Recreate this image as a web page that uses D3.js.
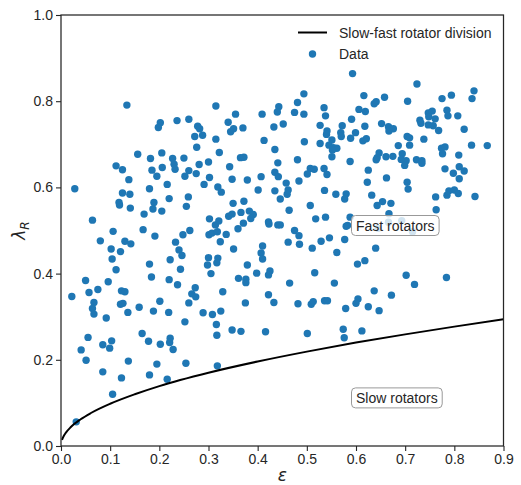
<!DOCTYPE html>
<html>
<head>
<meta charset="utf-8">
<script src="https://cdn.jsdelivr.net/npm/d3@7"></script>
<style>
  html, body { margin: 0; padding: 0; background: #fff; }
  svg { display: block; font-family: "Liberation Sans", Arial, sans-serif; }
</style>
</head>
<body>
<svg id="chart" width="521" height="485"></svg>
<script>
// Ellipticity (epsilon) and lambda_R of each galaxy
const dataEps = [
  0.134,0.202,0.198,0.236,0.260,0.278,0.282,0.272,0.276,0.156,0.182,0.205,0.227,0.250,0.230,0.232,0.112,0.125,0.185,0.206,
  0.195,0.260,0.281,0.275,0.252,0.138,0.216,
  0.494,0.481,0.315,0.443,0.440,0.355,0.409,0.475,0.494,0.535,0.538,0.340,0.351,0.345,0.370,0.452,0.433,0.288,0.527,0.541,
  0.540,0.572,0.569,0.570,0.315,0.413,0.495,0.527,0.551,0.545,0.554,0.561,0.552,0.322,0.435,0.551,0.300,0.365,0.372,0.343,
  0.441,0.481,0.507,0.515,0.435,0.442,0.535,0.541,0.501,0.302,0.348,0.379,0.407,0.458,0.484,0.291,
  0.593,0.724,0.840,0.836,0.616,0.658,0.637,0.641,0.705,0.775,0.794,0.606,0.619,0.591,0.747,0.755,0.748,0.785,0.787,0.807,
  0.730,0.732,0.761,0.652,0.666,0.676,0.667,0.618,0.747,0.757,0.768,0.820,0.599,0.589,0.614,0.621,0.704,0.709,0.738,0.686,
  0.709,0.774,0.781,0.776,0.835,0.867,0.647,0.643,0.641,0.661,0.675,0.694,0.692,0.702,0.699,0.723,0.734,0.734,0.809,0.588,
  0.625,0.781,0.810,0.820,0.798,0.810,0.623,0.662,0.704,
  0.028,0.125,0.140,0.118,0.119,0.141,0.180,0.189,0.187,0.169,0.205,0.220,0.259,0.255,0.064,0.106,0.167,0.191,0.248,0.262,
  0.080,0.130,0.142,0.102,0.121,0.233,0.240,0.246,0.104,0.222,0.180,0.112,0.243,0.184,0.050,0.096,0.220,0.237,0.022,0.057,
  0.075,0.123,0.130,0.067,0.121,0.126,0.201,0.273,0.266,0.274,0.260,0.159,0.064,
  0.319,0.326,0.401,0.435,0.462,0.460,0.536,0.559,0.580,0.577,0.350,0.372,0.446,0.507,0.302,0.314,0.321,0.301,0.307,0.318,
  0.336,0.324,0.341,0.348,0.366,0.383,0.391,0.386,0.371,0.360,0.422,0.423,0.441,0.446,0.464,0.518,0.538,0.580,0.475,0.484,
  0.462,0.485,0.511,0.529,0.546,0.577,0.351,0.410,0.407,0.410,0.300,0.298,0.319,0.317,0.379,0.305,0.398,0.425,0.422,0.361,
  0.376,0.376,0.516,0.561,0.465,0.556,0.329,0.422,0.375,0.433,0.482,0.509,0.513,0.536,0.542,0.579,
  0.706,0.762,0.785,0.789,0.800,0.808,0.842,0.632,0.643,0.654,0.671,0.667,0.763,0.588,0.583,0.645,0.666,0.693,0.715,0.640,
  0.603,0.618,0.702,0.719,0.784,0.637,0.672,0.604,0.600,0.625,0.647,
  0.067,0.092,0.136,0.188,0.219,0.252,0.055,0.041,0.051,0.085,0.103,0.099,0.165,0.178,0.202,0.222,0.221,0.228,0.137,0.195,
  0.254,0.085,0.123,0.180,0.216,0.105,0.031,
  0.289,0.308,0.325,0.316,0.317,0.348,0.366,0.416,0.501,0.574,0.576,0.612,0.318
];
const dataLambda = [
  0.791,0.750,0.739,0.755,0.758,0.742,0.736,0.718,0.693,0.677,0.667,0.680,0.667,0.668,0.654,0.642,0.650,0.641,0.640,0.646,
  0.626,0.639,0.653,0.632,0.626,0.618,0.607,
  0.817,0.797,0.789,0.787,0.775,0.770,0.770,0.774,0.770,0.785,0.766,0.751,0.736,0.729,0.738,0.747,0.740,0.721,0.744,0.731,
  0.723,0.743,0.727,0.718,0.712,0.709,0.706,0.702,0.710,0.698,0.692,0.691,0.687,0.681,0.688,0.671,0.659,0.669,0.670,0.648,
  0.657,0.664,0.644,0.642,0.635,0.625,0.644,0.630,0.631,0.623,0.619,0.617,0.625,0.610,0.615,0.607,
  0.864,0.840,0.824,0.806,0.813,0.809,0.794,0.799,0.800,0.806,0.814,0.781,0.776,0.758,0.773,0.777,0.764,0.779,0.766,0.766,
  0.756,0.749,0.759,0.748,0.741,0.736,0.731,0.742,0.745,0.743,0.732,0.735,0.727,0.714,0.708,0.713,0.718,0.715,0.712,0.697,
  0.698,0.691,0.694,0.678,0.698,0.697,0.680,0.669,0.664,0.671,0.672,0.678,0.665,0.662,0.651,0.664,0.662,0.656,0.675,0.660,
  0.640,0.643,0.648,0.638,0.633,0.620,0.612,0.622,0.612,
  0.597,0.587,0.584,0.565,0.559,0.552,0.597,0.565,0.550,0.538,0.545,0.574,0.578,0.556,0.524,0.498,0.502,0.487,0.490,0.500,
  0.476,0.475,0.469,0.457,0.451,0.473,0.455,0.442,0.434,0.432,0.422,0.409,0.410,0.392,0.384,0.381,0.386,0.374,0.347,0.356,
  0.363,0.360,0.358,0.333,0.329,0.331,0.336,0.367,0.353,0.346,0.332,0.322,0.319,
  0.601,0.589,0.594,0.592,0.594,0.584,0.593,0.584,0.585,0.573,0.563,0.568,0.573,0.558,0.527,0.513,0.522,0.490,0.494,0.497,
  0.491,0.474,0.533,0.538,0.542,0.545,0.537,0.528,0.517,0.504,0.520,0.515,0.513,0.513,0.547,0.527,0.531,0.510,0.500,0.488,
  0.473,0.468,0.459,0.475,0.483,0.479,0.457,0.464,0.448,0.434,0.437,0.420,0.436,0.425,0.420,0.400,0.401,0.406,0.397,0.389,
  0.387,0.379,0.402,0.449,0.378,0.378,0.358,0.351,0.332,0.333,0.330,0.329,0.335,0.337,0.337,0.319,
  0.596,0.578,0.582,0.592,0.594,0.586,0.579,0.582,0.558,0.567,0.563,0.539,0.548,0.531,0.512,0.505,0.519,0.523,0.497,0.459,
  0.422,0.430,0.396,0.375,0.391,0.360,0.350,0.341,0.331,0.323,0.314,
  0.306,0.297,0.310,0.313,0.310,0.288,0.252,0.223,0.199,0.235,0.244,0.227,0.261,0.243,0.236,0.250,0.240,0.224,0.197,0.190,
  0.192,0.172,0.158,0.165,0.155,0.120,0.056,
  0.309,0.305,0.313,0.282,0.257,0.269,0.266,0.265,0.261,0.271,0.251,0.267,0.186
];

// Slow/fast rotator dividing line, sampled along the curve
const divisionEps    = [0.002, 0.005, 0.01, 0.02, 0.04, 0.06, 0.10, 0.15, 0.20, 0.30, 0.40, 0.50, 0.60, 0.70, 0.80, 0.90];
const divisionLambda = [0.014, 0.022, 0.031, 0.044, 0.062, 0.076, 0.098, 0.120, 0.139, 0.170, 0.196, 0.219, 0.240, 0.259, 0.277, 0.294];

const xTicks = [0.0, 0.1, 0.2, 0.3, 0.4, 0.5, 0.6, 0.7, 0.8, 0.9];
const yTicks = [0.0, 0.2, 0.4, 0.6, 0.8, 1.0];

const regionLabels = ["Fast rotators", "Slow rotators"];
const regionLabelEps = [0.6, 0.6];
const regionLabelLambda = [0.5, 0.1];

const legendLabels = ["Slow-fast rotator division", "Data"];

const pointColor = "#1f77b4";
const axisColor = "#262626";

const svg = d3.select("#chart");
const x = d3.scaleLinear().domain([0, 0.9]).range([61, 503.5]);
const y = d3.scaleLinear().domain([0, 1]).range([446, 15]);

const plot = svg.append("g");

// scatter points
const points = dataEps.map((e, i) => ({ e, l: dataLambda[i] }));
plot.selectAll("circle.pt")
  .data(points)
  .join("circle")
  .attr("class", "pt")
  .attr("cx", d => x(d.e))
  .attr("cy", d => y(d.l))
  .attr("r", 3.7)
  .attr("fill", pointColor);

// division curve
const lineGen = d3.line()
  .x(d => x(d[0]))
  .y(d => y(d[1]))
  .curve(d3.curveMonotoneX);
plot.append("path")
  .datum(divisionEps.map((e, i) => [e, divisionLambda[i]]))
  .attr("d", lineGen)
  .attr("fill", "none")
  .attr("stroke", "#000")
  .attr("stroke-width", 2);

// region labels in rounded boxes
regionLabels.forEach((txt, i) => {
  const g = svg.append("g");
  const t = g.append("text")
    .attr("x", x(regionLabelEps[i]))
    .attr("y", y(regionLabelLambda[i]))
    .attr("font-size", 14)
    .attr("fill", "#262626")
    .text(txt);
  const bb = t.node().getBBox();
  g.insert("rect", "text")
    .attr("x", bb.x - 4.5)
    .attr("y", bb.y - 2)
    .attr("width", bb.width + 9)
    .attr("height", bb.height + 4)
    .attr("rx", 4)
    .attr("fill", "#fff")
    .attr("fill-opacity", 0.8)
    .attr("stroke", "#999")
    .attr("stroke-width", 1);
});

// axes
const xAxis = d3.axisBottom(x).tickValues(xTicks).tickFormat(d3.format(".1f")).tickSize(5).tickPadding(3);
const yAxis = d3.axisLeft(y).tickValues(yTicks).tickFormat(d3.format(".1f")).tickSize(5).tickPadding(3);

const gx = svg.append("g").attr("transform", "translate(0,446)").call(xAxis);
const gy = svg.append("g").attr("transform", "translate(61,0)").call(yAxis);
[gx, gy].forEach(g => {
  g.select(".domain").remove();
  g.selectAll("line").attr("stroke", axisColor).attr("stroke-width", 1.1);
  g.selectAll("text").attr("fill", axisColor).attr("font-size", 14)
    .attr("font-family", "Liberation Sans, Arial, sans-serif");
});

// frame
svg.append("rect")
  .attr("x", x(0)).attr("y", y(1))
  .attr("width", x(0.9) - x(0)).attr("height", y(0) - y(1))
  .attr("fill", "none").attr("stroke", axisColor).attr("stroke-width", 1.25);

// axis labels
svg.append("text")
  .attr("x", (x(0) + x(0.9)) / 2).attr("y", 481)
  .attr("text-anchor", "middle")
  .attr("font-size", 17).attr("font-style", "italic")
  .attr("font-family", "DejaVu Sans, sans-serif")
  .attr("fill", axisColor)
  .text("ε");

const yl = svg.append("text")
  .attr("transform", `translate(25,${(y(0) + y(1)) / 2}) rotate(-90)`)
  .attr("text-anchor", "middle")
  .attr("font-size", 17)
  .attr("font-family", "DejaVu Sans, sans-serif")
  .attr("fill", axisColor);
yl.append("tspan").attr("font-style", "italic").text("λ");
yl.append("tspan").attr("font-size", 12).attr("font-style", "italic").attr("dy", 4).text("R");

// legend
const leg = svg.append("g").attr("font-size", 14).attr("fill", axisColor);
leg.append("line")
  .attr("x1", 298).attr("x2", 327).attr("y1", 32.5).attr("y2", 32.5)
  .attr("stroke", "#000").attr("stroke-width", 2);
leg.append("text").attr("x", 339).attr("y", 37.5).attr("fill", axisColor).text(legendLabels[0]);
leg.append("circle").attr("cx", 312.5).attr("cy", 54).attr("r", 3.7).attr("fill", pointColor);
leg.append("text").attr("x", 339).attr("y", 58.5).attr("fill", axisColor).text(legendLabels[1]);
</script>
</body>
</html>
